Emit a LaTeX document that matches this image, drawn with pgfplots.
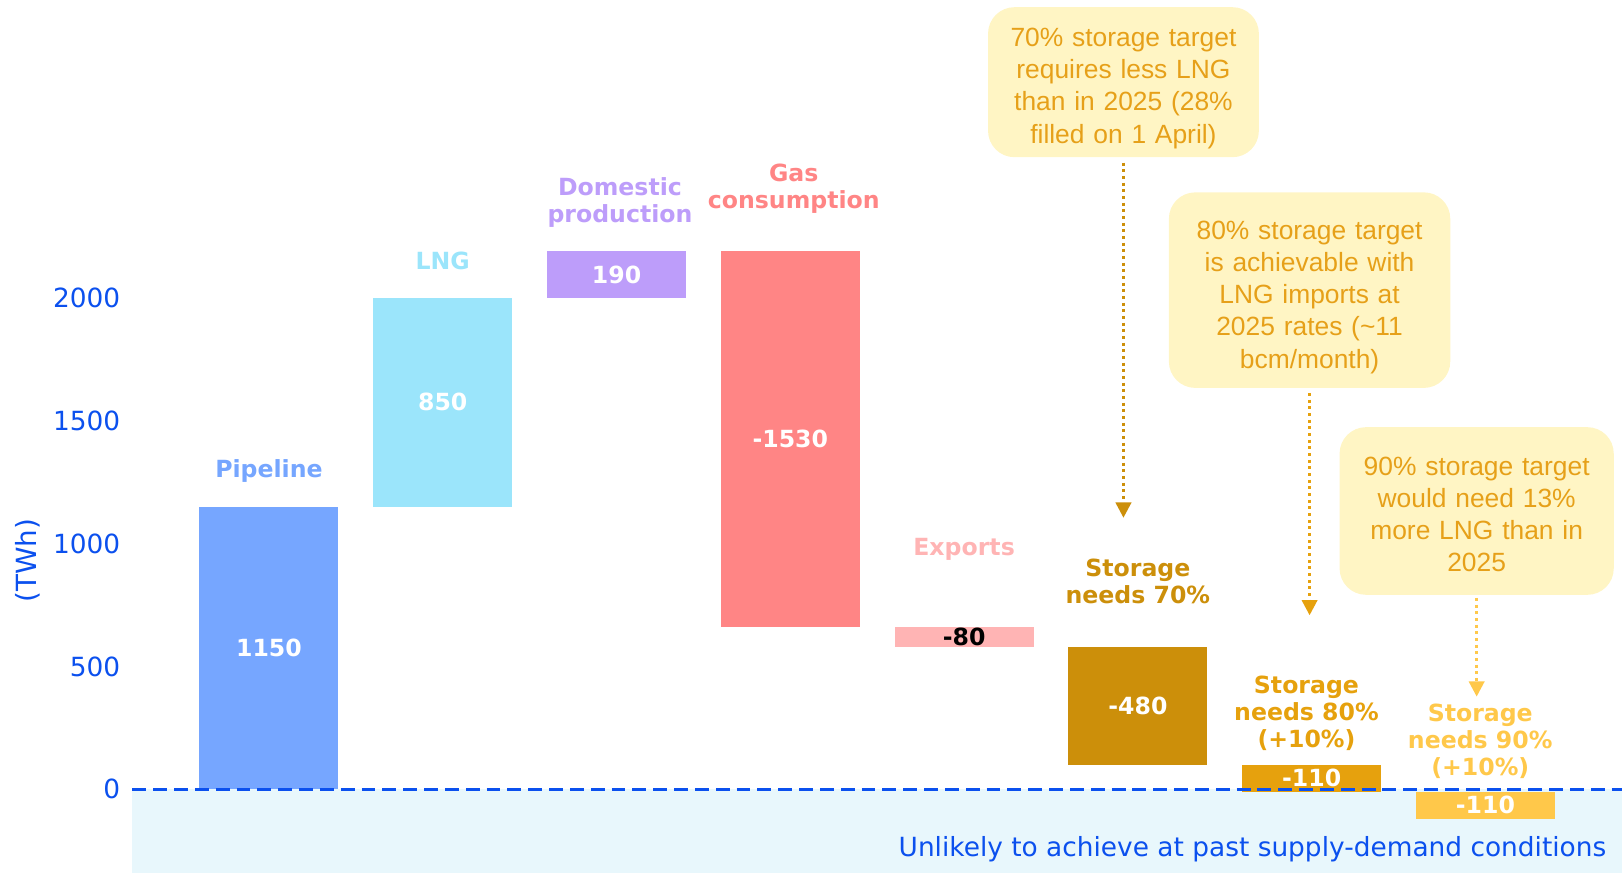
\documentclass[border=0pt]{standalone}
\usepackage{fontspec}
\setmainfont{DejaVu Sans}
\newfontfamily\annfont{Liberation Sans}
\usepackage{pgfplots}
\pgfplotsset{compat=1.18}
\usetikzlibrary{arrows.meta}

% palette
\definecolor{cpipe}{HTML}{76A6FF}
\definecolor{clng}{HTML}{9BE5FB}
\definecolor{cdom}{HTML}{BD9DFA}
\definecolor{ccons}{HTML}{FF8585}
\definecolor{cexp}{HTML}{FFB4B4}
\definecolor{csA}{HTML}{CC8F0A}
\definecolor{csB}{HTML}{E6A10D}
\definecolor{csC}{HTML}{FFC84A}
\definecolor{annfill}{HTML}{FFF5C4}
\definecolor{anntext}{HTML}{E6A019}
\definecolor{tblue}{HTML}{0B50EE}
\definecolor{shadebg}{HTML}{E8F7FC}

\newcommand{\lblfont}{\fontsize{17}{19.4}\selectfont\bfseries}
\newcommand{\boxfont}{\annfont\fontsize{19}{23.1}\selectfont}

\begin{document}
\begin{tikzpicture}
\begin{axis}[
  scale only axis, width=1072.5pt, height=628.56pt,
  xmin=-0.7857, xmax=7.7857, ymin=-341, ymax=3212.6,
  clip=false,
  axis line style={draw=none},
  tick style={draw=none},
  xtick=\empty,
  ytick={0,500,1000,1500,2000},
  yticklabel style={text=tblue, font=\fontsize{19}{23}\selectfont, anchor=east, inner sep=0pt, xshift=-8.6pt},
  /pgf/number format/assume math mode=true,
  /pgf/number format/set thousands separator={},
]
% region below zero
\fill[shadebg] (axis cs:-0.7857,-341) rectangle (axis cs:7.7857,0);

% waterfall bars: start and end level of each step
\addplot[fill=cpipe, draw=none] coordinates {(-0.4,0) (0.4,0) (0.4,1150) (-0.4,1150)};
\addplot[fill=clng, draw=none] coordinates {(0.6,1150) (1.4,1150) (1.4,2000) (0.6,2000)};
\addplot[fill=cdom, draw=none] coordinates {(1.6,2000) (2.4,2000) (2.4,2190) (1.6,2190)};
\addplot[fill=ccons, draw=none] coordinates {(2.6,2190) (3.4,2190) (3.4,660) (2.6,660)};
\addplot[fill=cexp, draw=none] coordinates {(3.6,660) (4.4,660) (4.4,580) (3.6,580)};
\addplot[fill=csA, draw=none] coordinates {(4.6,580) (5.4,580) (5.4,100) (4.6,100)};
\addplot[fill=csB, draw=none] coordinates {(5.6,100) (6.4,100) (6.4,-10) (5.6,-10)};
\addplot[fill=csC, draw=none] coordinates {(6.6,-10) (7.4,-10) (7.4,-120) (6.6,-120)};

% zero line
\draw[tblue, line width=2.2pt, dash pattern=on 10pt off 5pt] (axis cs:-0.7857,0) -- (axis cs:7.7857,0);

% values inside the bars
\node[text=white, font=\lblfont] at (axis cs:0,575) {1150};
\node[text=white, font=\lblfont] at (axis cs:1,1575) {850};
\node[text=white, font=\lblfont] at (axis cs:2,2095) {190};
\node[text=white, font=\lblfont] at (axis cs:3,1425) {-1530};
\node[text=black, font=\lblfont] at (axis cs:4,620) {-80};
\node[text=white, font=\lblfont] at (axis cs:5,340) {-480};
\node[text=white, font=\lblfont] at (axis cs:6,45) {-110};
\node[text=white, font=\lblfont] at (axis cs:7,-65) {-110};

% step names
\node[text=cpipe, font=\lblfont, align=center] at (axis cs:0,1294) {Pipeline};
\node[text=clng, font=\lblfont, align=center] at (axis cs:1,2152) {LNG};
\node[text=cdom, font=\lblfont, align=center] at (axis cs:2.02,2388) {Domestic\\production};
\node[text=ccons, font=\lblfont, align=center] at (axis cs:3.02,2446) {Gas\\consumption};
\node[text=cexp, font=\lblfont, align=center] at (axis cs:4,975) {Exports};
\node[text=csA, font=\lblfont, align=center] at (axis cs:5,846) {Storage\\needs 70\%};
\node[text=csB, font=\lblfont, align=center] at (axis cs:5.97,310) {Storage\\needs 80\%\\(+10\%)};
\node[text=csC, font=\lblfont, align=center] at (axis cs:6.97,196) {Storage\\needs 90\%\\(+10\%)};

% callouts: rounded boxes, then their text
\node[fill=annfill, rounded corners=19pt, inner sep=0pt, minimum width=195pt, minimum height=108pt] at (axis cs:4.917,2878) {};
\node[fill=annfill, rounded corners=19pt, inner sep=0pt, minimum width=202.6pt, minimum height=140.8pt] at (axis cs:5.988,2031.6) {};
\node[fill=annfill, rounded corners=19pt, inner sep=0pt, minimum width=197.4pt, minimum height=120.7pt] at (axis cs:6.9494,1132.6) {};
\node[inner sep=0pt, text width=195pt, align=center, text=anntext, font=\boxfont, yshift=-4.5pt] at (axis cs:4.917,2878)
  {70\% storage target\\requires less LNG\\than in 2025 (28\%\\filled on 1 April)};
\node[inner sep=0pt, text width=202.6pt, align=center, text=anntext, font=\boxfont, yshift=-5.2pt] at (axis cs:5.988,2031.6)
  {80\% storage target\\is achievable with\\LNG imports at\\2025 rates (\textasciitilde11\\bcm/month)};
\node[inner sep=0pt, text width=197.4pt, align=center, text=anntext, font=\boxfont, yshift=-2.2pt] at (axis cs:6.9494,1132.6)
  {90\% storage target\\would need 13\%\\more LNG than in\\2025};

\draw[csA, line width=2.2pt, dash pattern=on 2.2pt off 2.6pt, -{Triangle[width=11pt,length=11pt]}] (axis cs:4.917,2551) -- (axis cs:4.917,1105);
\draw[csB, line width=2.2pt, dash pattern=on 2.2pt off 2.6pt, -{Triangle[width=11pt,length=11pt]}] (axis cs:5.988,1613) -- (axis cs:5.988,708);
\draw[csC, line width=2.2pt, dash pattern=on 2.2pt off 2.6pt, -{Triangle[width=11pt,length=11pt]}] (axis cs:6.9494,779) -- (axis cs:6.9494,377);

% axis title and note
\node[rotate=90, text=tblue, font=\fontsize{20}{24}\selectfont] at (axis cs:-1.387,931) {(TWh)};
\node[anchor=east, inner sep=0pt, text=tblue, font=\fontsize{19}{23}\selectfont] at (axis cs:7.6964,-244) {Unlikely to achieve at past supply-demand conditions};

\coordinate (BBsw) at (axis cs:-1.5476,-341);
\coordinate (BBne) at (axis cs:7.7857,3212.6);
\end{axis}
\pgfresetboundingbox
\path[use as bounding box] (BBsw) rectangle (BBne);
\end{tikzpicture}
\end{document}
